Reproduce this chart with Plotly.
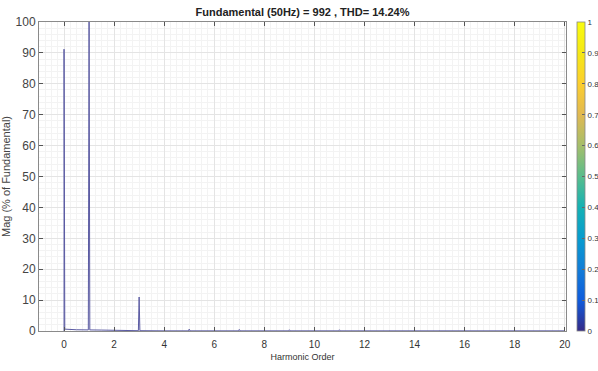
import plotly.graph_objects as go

# Spectrum (harmonic order vs magnitude in % of fundamental)
harmonic_order = [0.0, 0.0, 0.03, 0.5, 0.97, 1.0, 1.03, 1.5, 2.0, 2.5, 2.97, 3.0, 3.03,
                  4.0, 4.97, 5.0, 5.03, 6.0, 6.97, 7.0, 7.03, 8.0, 8.97, 9.0, 9.03,
                  10.0, 10.97, 11.0, 11.03, 12.0, 12.97, 13.0, 13.03, 14.0, 14.97, 15.0,
                  15.03, 16.0, 17.0, 18.0, 19.0, 20.0]
magnitude = [0.0, 91.2, 0.6, 0.4, 0.35, 100.0, 0.35, 0.3, 0.25, 0.15, 0.1, 11.0, 0.1,
             0.05, 0.05, 0.6, 0.05, 0.05, 0.05, 0.5, 0.05, 0.05, 0.05, 0.4, 0.05,
             0.05, 0.05, 0.4, 0.05, 0.05, 0.05, 0.3, 0.05, 0.05, 0.05, 0.3,
             0.05, 0.05, 0.05, 0.05, 0.05, 0.05]

x_ticks = [0, 2, 4, 6, 8, 10, 12, 14, 16, 18, 20]
y_ticks = [0, 10, 20, 30, 40, 50, 60, 70, 80, 90, 100]
cbar_ticks = [0, 0.1, 0.2, 0.3, 0.4, 0.5, 0.6, 0.7, 0.8, 0.9, 1]

title_text = "Fundamental (50Hz) = 992 , THD= 14.24%"

parula = [
    [0.0, "rgb(53,42,135)"],
    [0.1, "rgb(15,92,221)"],
    [0.2, "rgb(18,125,216)"],
    [0.3, "rgb(7,156,207)"],
    [0.4, "rgb(21,177,180)"],
    [0.5, "rgb(89,189,140)"],
    [0.6, "rgb(165,190,107)"],
    [0.7, "rgb(225,185,82)"],
    [0.8, "rgb(252,206,46)"],
    [0.9, "rgb(245,232,22)"],
    [1.0, "rgb(249,251,14)"],
]

fig = go.Figure()
fig.add_trace(go.Scatter(
    x=harmonic_order, y=magnitude, mode="lines",
    line=dict(color="#5b5ba3", width=1),
    showlegend=False, hoverinfo="skip",
))
# colorbar carrier
fig.add_trace(go.Scatter(
    x=[None], y=[None], mode="markers",
    marker=dict(color=[0], cmin=0, cmax=1, colorscale=parula, showscale=True,
                colorbar=dict(x=1.021, xanchor="left", xpad=0, ypad=0,
                              y=0.5, yanchor="middle", len=1.0, lenmode="fraction",
                              thickness=8, outlinewidth=0.8, outlinecolor="#888",
                              tickvals=cbar_ticks, ticktext=[str(t) for t in cbar_ticks],
                              ticks="inside", ticklen=3, tickcolor="#666",
                              tickfont=dict(family="Liberation Sans", size=8, color="#333"))),
    showlegend=False, hoverinfo="skip",
))

axis_common = dict(
    showline=True, linecolor="#8a8a8a", linewidth=1, mirror="ticks",
    ticks="inside", ticklen=4, tickcolor="#555",
    gridcolor="#e4e4e4", gridwidth=1, zeroline=False,
)

fig.update_layout(
    width=598, height=371,
    margin=dict(l=39, r=32, t=22, b=40, autoexpand=False),
    paper_bgcolor="white", plot_bgcolor="white",
    title=dict(text="<b>" + title_text + "</b>", x=0.5, xanchor="center",
               xref="paper", y=0.967, yanchor="middle",
               font=dict(family="Liberation Sans", size=11, color="#222")),
    xaxis=dict(range=[-1, 20.05], tickvals=x_ticks, ticklabelstandoff=4,
               tickfont=dict(family="Liberation Sans", size=10, color="#333"),
               title=dict(text="Harmonic Order", standoff=4,
                          font=dict(family="Liberation Sans", size=9, color="#333")),
               minor=dict(dtick=0.25, showgrid=True, gridcolor="#f3f3f3", ticks=""),
               **axis_common),
    yaxis=dict(range=[0, 100], tickvals=y_ticks,
               tickfont=dict(family="Liberation Sans", size=12, color="#444"),
               title=dict(text="Mag (% of Fundamental)", standoff=6,
                          font=dict(family="Liberation Sans", size=11, color="#444")),
               minor=dict(dtick=2, showgrid=True, gridcolor="#f3f3f3", ticks=""),
               **axis_common),
)

fig.write_html("out.html")
